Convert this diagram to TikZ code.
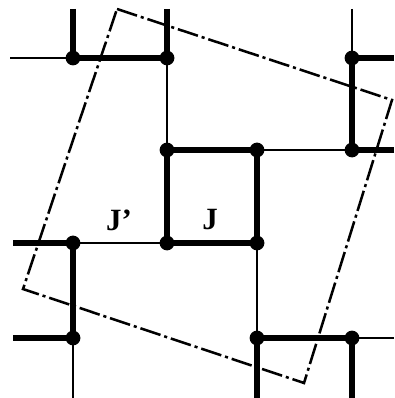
\documentclass[tikz,border=0pt]{standalone}
\usepackage{fontspec}
\setmainfont{Liberation Serif}
\usetikzlibrary{backgrounds}

\begin{document}
\begin{tikzpicture}[x=0.025cm, y=-0.025cm,
    dot/.style={circle, fill=black, inner sep=0pt, minimum size=0.37cm},
    heavy/.style={line width=4.8pt},
    light/.style={line width=1.9pt},
    frame/.style={line width=1.8pt, dash pattern=on 15pt off 2.8pt on 2.2pt off 2.8pt},
    lbl/.style={font=\fontsize{22}{26}\selectfont\bfseries}]
    \useasboundingbox (0,0) rectangle (394,398);
    % junctions
    \node[dot] (a1) at (73,58) {};
    \node[dot] (a2) at (167,58) {};
    \node[dot] (a4) at (352,58) {};
    \node[dot] (b2) at (167,150) {};
    \node[dot] (b3) at (257,150) {};
    \node[dot] (b4) at (352,150) {};
    \node[dot] (c1) at (73,243) {};
    \node[dot] (c2) at (167,243) {};
    \node[dot] (c3) at (257,243) {};
    \node[dot] (d1) at (73,338) {};
    \node[dot] (d3) at (257,338) {};
    \node[dot] (d4) at (352,338) {};
    % loose ends at the border
    \coordinate (t1) at (73,9);
    \coordinate (t2) at (167,9);
    \coordinate (t4) at (352,9);
    \coordinate (l1) at (10,58);
    \coordinate (l3) at (13,243);
    \coordinate (l4) at (13,338);
    \coordinate (r1) at (394,58);
    \coordinate (r2) at (394,150);
    \coordinate (r4) at (394,338);
    \coordinate (s1) at (73,398);
    \coordinate (s3) at (257,398);
    \coordinate (s4) at (352,398);
    \begin{scope}[on background layer]
        \draw[light] (l1) -- (a1.center);
        \draw[heavy] (t1) -- (a1.center) -- (a2.center);
        \draw[heavy] (t2) -- (a2.center);
        \draw[light] (a2.center) -- (b2.center);
        \draw[heavy] (b2.center) -- (b3.center) -- (c3.center) -- (c2.center) -- cycle;
        \draw[light] (b3.center) -- (b4.center);
        \draw[heavy] (r2) -- (b4.center) -- (a4.center) -- (r1);
        \draw[light] (t4) -- (a4.center);
        \draw[heavy] (l3) -- (c1.center) -- (d1.center);
        \draw[light] (c1.center) -- (c2.center);
        \draw[heavy] (l4) -- (d1.center);
        \draw[light] (d1.center) -- (s1);
        \draw[light] (c3.center) -- (d3.center);
        \draw[heavy] (s3) -- (d3.center) -- (d4.center) -- (s4);
        \draw[light] (d4.center) -- (r4);
    \end{scope}
    \draw[frame] (117,9) -- (392,100) -- (304,383) -- (23,289) -- cycle;
    \node[lbl] (jp) at (119,220) {J'};
    \node[lbl] (j) at (210,220) {J};
\end{tikzpicture}
\end{document}
